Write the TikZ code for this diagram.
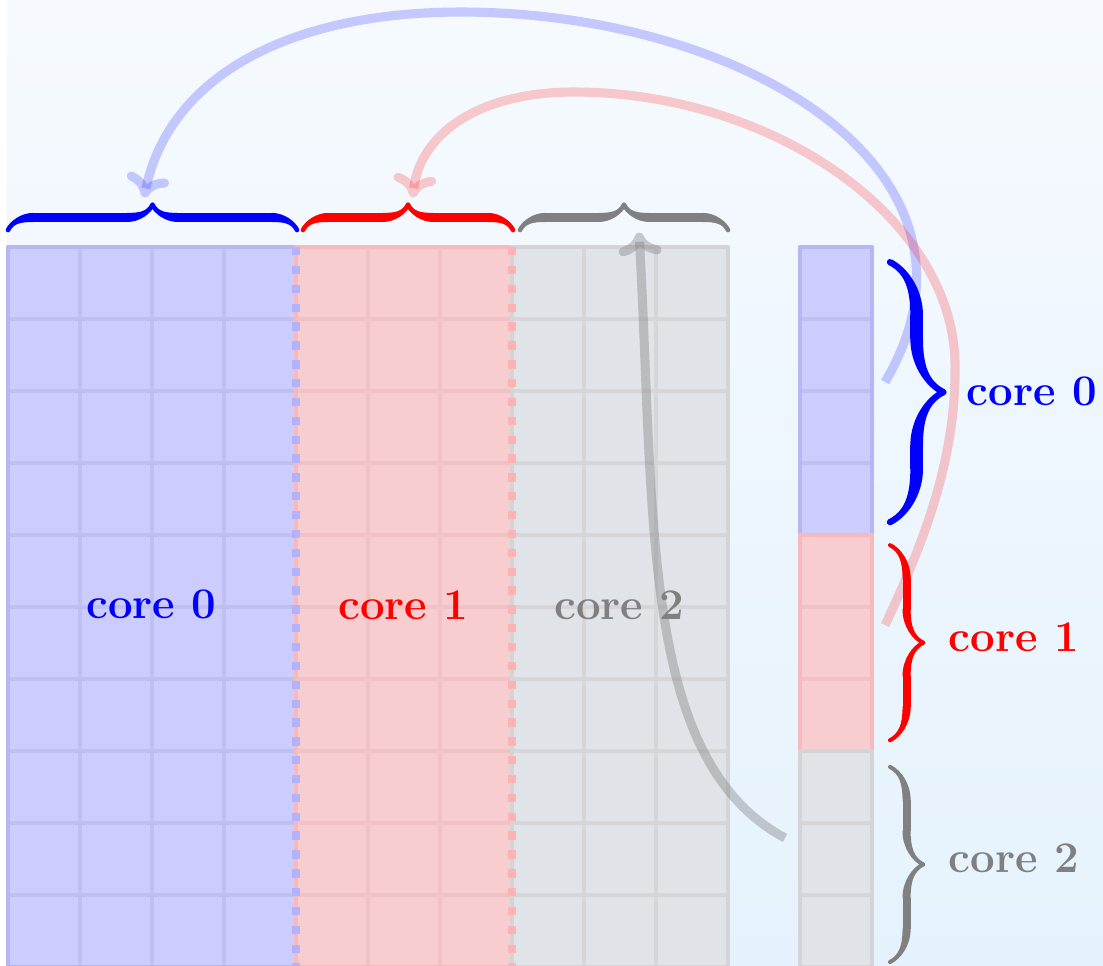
\documentclass[tikz,border=0pt]{standalone}
\usetikzlibrary{decorations.pathreplacing,calligraphy,arrows.meta}

\definecolor{bgtop}{RGB}{246,250,254}
\definecolor{bgbot}{RGB}{229,242,253}
\definecolor{bfill}{RGB}{204,204,255}
\definecolor{bline}{RGB}{192,192,240}
\definecolor{bedge}{RGB}{182,182,242}
\definecolor{rfill}{RGB}{247,205,208}
\definecolor{rline}{RGB}{240,194,197}
\definecolor{redge}{RGB}{246,186,190}
\definecolor{gfill}{RGB}{224,228,232}
\definecolor{gline}{RGB}{214,214,217}
\definecolor{gedge}{RGB}{212,212,215}
\definecolor{bdash}{RGB}{178,178,255}
\definecolor{rdash}{RGB}{255,178,178}
\definecolor{coregray}{RGB}{128,128,128}

% a block of unit cells: corners, fill, inner lines, outline
\newcommand\cellblock[7]{%
  \fill[#5] (#1,#2) rectangle (#3,#4);
  \draw[#6, line width=1.6pt] (#1,#2) grid (#3,#4);
  \draw[#7, line width=1.6pt, line join=round] (#1,#2) rectangle (#3,#4);
}

\tikzset{
  corelabel/.style={font=\LARGE\bfseries, inner sep=0pt},
  split/.style={line width=3.5pt, dash pattern=on 3.3pt off 4.15pt},
  topbrace/.style={line width=3.6pt, pen colour={#1}, decorate,
    decoration={calligraphic brace, amplitude=0.35cm}},
  sidebrace/.style 2 args={pen colour={#1}, decorate,
    decoration={calligraphic brace, amplitude=#2}},
  move/.style={line width=3.6pt,
    -{Computer Modern Rightarrow[length=9pt, width=17pt]}},
}

\begin{document}
\begin{tikzpicture}
\useasboundingbox (-0.111,-9.972) rectangle (15.208,3.431);
\shade[top color=bgtop, bottom color=bgbot] (-0.014,-9.972) rectangle (15.208,3.431);

% matrix split by columns
\cellblock{0}{0}{4}{-10}{bfill}{bline}{bedge}
\cellblock{4}{0}{7}{-10}{rfill}{rline}{redge}
\cellblock{7}{0}{10}{-10}{gfill}{gline}{gedge}
\draw[split, bdash] (4,0) -- (4,-10);
\draw[split, rdash] (7,0) -- (7,-10);

% vector split by rows
\cellblock{11}{0}{12}{-4}{bfill}{bline}{bedge}
\cellblock{11}{-4}{12}{-7}{rfill}{rline}{redge}
\cellblock{11}{-7}{12}{-10}{gfill}{gline}{gedge}

% labels inside the matrix
\node[corelabel, text=blue] (m0) at (1.99,-4.97) {core 0};
\node[corelabel, text=red] (m1) at (5.49,-4.97) {core 1};
\node[corelabel, text=coregray] (m2) at (8.49,-4.97) {core 2};

% braces over the column groups
\draw[topbrace=blue] (0,0.236) -- (4.014,0.236);
\draw[topbrace=red] (4.097,0.236) -- (7.014,0.236);
\draw[topbrace=coregray] (7.111,0.236) -- (10,0.236);

% braces beside the vector
\draw[sidebrace={blue}{0.74cm}, line width=5pt] (12.25,-0.21) -- (12.25,-3.82);
\draw[sidebrace={red}{0.46cm}, line width=3.2pt] (12.25,-4.14) -- (12.25,-6.85);
\draw[sidebrace={coregray}{0.46cm}, line width=3.2pt] (12.25,-7.22) -- (12.25,-9.93);

\node[corelabel, text=blue, anchor=west] (v0) at (13.31,-2.0) {core 0};
\node[corelabel, text=red, anchor=west] (v1) at (13.06,-5.42) {core 1};
\node[corelabel, text=coregray, anchor=west] (v2) at (13.06,-8.49) {core 2};

% arrow ends
\coordinate (s0) at (12.181,-1.875);
\coordinate (e0) at (1.89,0.69);
\coordinate (s1) at (12.181,-5.25);
\coordinate (e1) at (5.62,0.69);
\coordinate (s2) at (10.792,-8.208);
\coordinate (e2) at (8.764,0.2);

% vector pieces sent back to the column groups
\draw[move, blue, opacity=0.2] (s0)
  .. controls (13.917,1.069) and (10.181,3.264) .. (6.292,3.264)
  .. controls (3.931,3.264) and (2.25,2.389) .. (e0);
\draw[move, red, opacity=0.2] (s1)
  .. controls (12.736,-4.069) and (13.153,-2.958) .. (13.153,-1.708)
  .. controls (13.194,0.375) and (10.639,2.153) .. (7.861,2.153)
  .. controls (6.472,2.153) and (5.722,1.528) .. (e1);
\draw[move, coregray, opacity=0.4] (s2)
  .. controls (8.778,-7.125) and (8.986,-3.792) .. (e2);
\end{tikzpicture}
\end{document}
